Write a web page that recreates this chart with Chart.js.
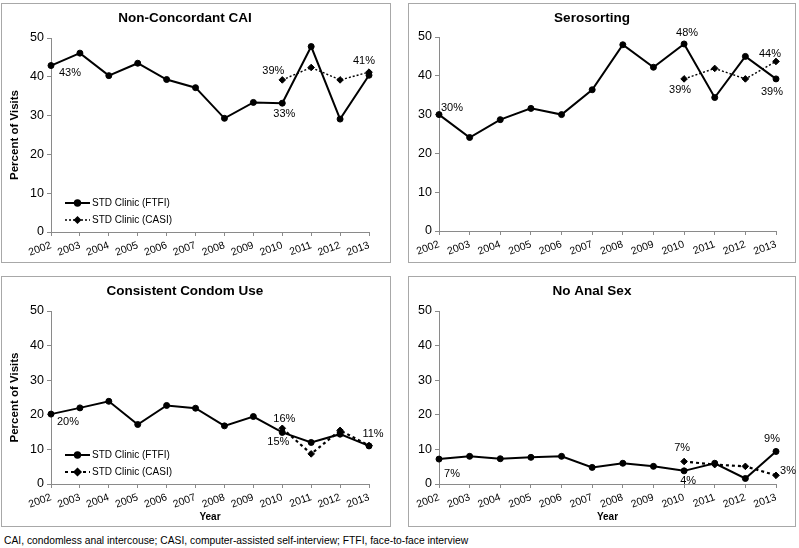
<!DOCTYPE html>
<html lang="en">
<head>
  <meta charset="UTF-8" />
  <title>Sexual behaviours at STD clinic visits, 2002-2013</title>
  <script src="https://cdn.jsdelivr.net/npm/chart.js"></script>
  <style>
    body {
      margin: 0;
      width: 799px;
      height: 548px;
      position: relative;
      background: #fff;
      font-family: Arial, 'Liberation Sans', sans-serif;
      overflow: hidden;
    }
    .panel {
      position: absolute;
      border: 1px solid #a8a8a8;
      box-sizing: border-box;
    }
    .panel canvas {
      position: absolute;
      left: -1px;
      top: -1px;
    }
    #p1 { left: 1px; top: 3px; width: 390px; height: 260px; }
    #p2 { left: 408px; top: 3px; width: 388px; height: 260px; }
    #p3 { left: 1px; top: 276px; width: 390px; height: 251px; }
    #p4 { left: 408px; top: 276px; width: 388px; height: 251px; }
    .note {
      position: absolute;
      left: 4px;
      top: 535px;
      font-size: 10.3px;
      color: #000;
      white-space: nowrap;
    }
  </style>
</head>
<body>
  <div class="panel" id="p1"><canvas id="c1" width="390" height="260"></canvas></div>
  <div class="panel" id="p2"><canvas id="c2" width="388" height="260"></canvas></div>
  <div class="panel" id="p3"><canvas id="c3" width="390" height="251"></canvas></div>
  <div class="panel" id="p4"><canvas id="c4" width="388" height="251"></canvas></div>
  <div class="note">CAI, condomless anal intercouse; CASI, computer-assisted self-interview; FTFI, face-to-face interview</div>

  <script>
    // years on the x axis
    const years = ['2002', '2003', '2004', '2005', '2006', '2007', '2008', '2009', '2010', '2011', '2012', '2013'];
    const yTicks = [0, 10, 20, 30, 40, 50];

    // percent of visits
    const caiFtfi = [42.9, 46.1, 40.3, 43.5, 39.3, 37.2, 29.3, 33.4, 33.2, 47.8, 29.1, 40.4];
    const caiCasi = [null, null, null, null, null, null, null, null, 39.2, 42.4, 39.2, 41.2];

    const seroFtfi = [30.0, 24.1, 28.7, 31.6, 30.0, 36.4, 48.0, 42.2, 48.2, 34.4, 45.0, 39.2];
    const seroCasi = [null, null, null, null, null, null, null, null, 39.2, 41.9, 39.2, 43.7];

    const condomFtfi = [20.2, 22.0, 23.9, 17.2, 22.7, 21.9, 16.8, 19.5, 14.9, 12.0, 14.4, 11.0];
    const condomCasi = [null, null, null, null, null, null, null, null, 16.1, 8.7, 15.5, 11.1];

    const noAnalFtfi = [7.2, 8.0, 7.3, 7.7, 8.0, 4.8, 6.0, 5.1, 3.8, 6.0, 1.6, 9.4];
    const noAnalCasi = [null, null, null, null, null, null, null, null, 6.5, 5.6, 5.1, 2.5];

    const FONT = "Arial, 'Liberation Sans', sans-serif";
    const AXIS_GREY = '#8a8a8a';
    Chart.defaults.font.family = FONT;
    Chart.defaults.color = '#000';

    // "43%" style value labels next to selected points
    const pctLabels = {
      id: 'pctLabels',
      afterDatasetsDraw(chart, args, opts) {
        const ctx = chart.ctx;
        ctx.save();
        ctx.font = '11px ' + FONT;
        ctx.fillStyle = '#000';
        ctx.textAlign = 'center';
        ctx.textBaseline = 'middle';
        (opts.items || []).forEach(([d, i, dx, dy]) => {
          const pt = chart.getDatasetMeta(d).data[i];
          const v = chart.data.datasets[d].data[i];
          ctx.fillText(Math.round(v) + '%', pt.x + dx, pt.y + dy);
        });
        ctx.restore();
      }
    };

    // legend drawn inside the plot (line + marker + text)
    const insideLegend = {
      id: 'insideLegend',
      afterDatasetsDraw(chart, args, opts) {
        if (!opts.show) return;
        const ctx = chart.ctx;
        const area = chart.chartArea;
        chart.data.datasets.forEach((ds, k) => {
          const y = area.bottom + opts.rows[k];
          const x0 = area.left + 14;
          ctx.save();
          ctx.strokeStyle = '#000';
          ctx.fillStyle = '#000';
          ctx.lineWidth = ds.borderWidth;
          ctx.setLineDash(ds.borderDash || []);
          ctx.beginPath();
          ctx.moveTo(x0, y);
          ctx.lineTo(x0 + 25, y);
          ctx.stroke();
          ctx.setLineDash([]);
          Chart.helpers.drawPoint(ctx, { pointStyle: ds.pointStyle, radius: ds.pointRadius - 0.3, borderWidth: 1, rotation: 0 }, x0 + 12.5, y);
          ctx.font = '10px ' + FONT;
          ctx.textAlign = 'left';
          ctx.textBaseline = 'middle';
          ctx.fillText(ds.label, x0 + 27, y + 0.5);
          ctx.restore();
        });
      }
    };

    function makeChart(id, title, ftfi, casi, opt) {
      const ctx = document.getElementById(id).getContext('2d');
      return new Chart(ctx, {
        type: 'line',
        data: {
          labels: years,
          datasets: [{
            label: 'STD Clinic (FTFI)',
            data: ftfi,
            borderColor: '#000',
            backgroundColor: '#000',
            borderWidth: 2,
            pointStyle: 'circle',
            pointRadius: 3,
            pointBorderWidth: 1,
            tension: 0,
            clip: false
          }, {
            label: 'STD Clinic (CASI)',
            data: casi,
            borderColor: '#000',
            backgroundColor: '#000',
            borderWidth: opt.dotWidth,
            borderDash: opt.dash,
            pointStyle: 'rectRot',
            pointRadius: 3.3,
            pointBorderWidth: 1,
            tension: 0,
            clip: false
          }]
        },
        options: {
          responsive: false,
          animation: false,
          events: [],
          layout: { padding: { left: 0, right: opt.right, top: 0, bottom: 0 } },
          plugins: {
            legend: { display: false },
            tooltip: { enabled: false },
            title: {
              display: true,
              text: title,
              color: '#000',
              font: { size: 13.5, weight: 'bold' },
              padding: { top: 7, bottom: opt.top - 7 - 16.2 }
            },
            pctLabels: { items: opt.labels },
            insideLegend: { show: opt.legend, rows: [-29, -12] }
          },
          scales: {
            x: {
              type: 'category',
              offset: false,
              afterFit(scale) { scale.height = opt.xHeight; },
              grid: { display: true, drawOnChartArea: false, offset: false, color: AXIS_GREY, tickLength: 4 },
              border: { color: AXIS_GREY, width: 1 },
              ticks: { minRotation: 20, maxRotation: 20, padding: 3, color: '#000', font: { size: 10.5 } },
              title: {
                display: opt.yearTitle,
                text: 'Year',
                color: '#000',
                font: { size: 10, weight: 'bold' },
                padding: { top: 0, bottom: 3.5 }
              }
            },
            y: {
              min: 0,
              max: 50,
              afterFit(scale) { scale.width = opt.yWidth; },
              afterBuildTicks(scale) { scale.ticks = yTicks.map(v => ({ value: v })); },
              grid: { display: true, drawOnChartArea: false, color: AXIS_GREY, tickLength: 4 },
              border: { color: AXIS_GREY, width: 1 },
              ticks: { padding: 3, color: '#000', font: { size: 12.5 } },
              title: {
                display: opt.yTitle,
                text: 'Percent of Visits',
                color: '#000',
                font: { size: 11.5, weight: 'bold' },
                padding: { top: 6.5, bottom: 0 }
              }
            }
          }
        },
        plugins: [pctLabels, insideLegend]
      });
    }

    makeChart('c1', 'Non-Concordant CAI', caiFtfi, caiCasi, {
      right: 22, top: 35, xHeight: 31, yWidth: 50, yTitle: true, yearTitle: false, legend: true,
      dotWidth: 1.4, dash: [2, 2],
      labels: [[0, 0, 19, 7], [1, 8, -9, -9], [0, 8, 2, 11], [1, 11, -5, -11]]
    });

    makeChart('c2', 'Serosorting', seroFtfi, seroCasi, {
      right: 20, top: 34, xHeight: 32, yWidth: 31, yTitle: false, yearTitle: false, legend: false,
      dotWidth: 1.4, dash: [2, 2],
      labels: [[0, 0, 13, -7], [0, 8, 3, -11], [1, 8, -4, 11], [1, 11, -6, -7], [0, 11, -4, 13]]
    });

    makeChart('c3', 'Consistent Condom Use', condomFtfi, condomCasi, {
      right: 22, top: 35, xHeight: 43, yWidth: 50, yTitle: true, yearTitle: true, legend: true,
      dotWidth: 2.2, dash: [3, 3],
      labels: [[0, 0, 17, 8], [1, 8, 2, -9], [0, 8, -4, 10], [1, 11, 4, -12]]
    });

    makeChart('c4', 'No Anal Sex', noAnalFtfi, noAnalCasi, {
      right: 20, top: 35, xHeight: 43, yWidth: 31, yTitle: false, yearTitle: true, legend: false,
      dotWidth: 2.2, dash: [3, 3],
      labels: [[0, 0, 13, 15], [1, 8, -2, -14], [0, 8, 4, 10], [0, 11, -4, -13], [1, 11, 12, -4]]
    });
  </script>
</body>
</html>
